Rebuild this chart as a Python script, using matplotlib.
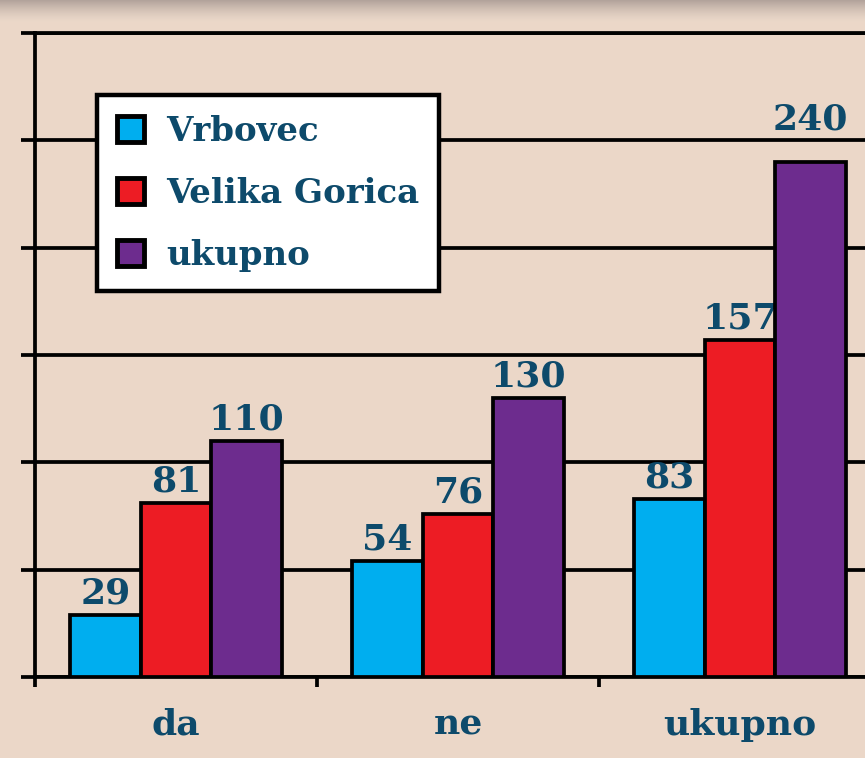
import numpy as np
import matplotlib.pyplot as plt
from matplotlib.patches import Patch

# data
categories = ['da', 'ne', 'ukupno']
series = ['Vrbovec', 'Velika Gorica', 'ukupno']
vrbovec = [29, 54, 83]
velika_gorica = [81, 76, 157]
ukupno = [110, 130, 240]
values = [vrbovec, velika_gorica, ukupno]
colors = ['#00AEEF', '#ED1C24', '#6D2C8E']

txt_color = '#0D4A6B'
bg = '#EBD8C9'
font = 'DejaVu Serif'

fig = plt.figure(figsize=(8.65, 7.58), dpi=100)
fig.patch.set_facecolor(bg)

# background with darker band at the top
bga = fig.add_axes([0, 0, 1, 1], zorder=-10)
grad = np.ones((758, 1, 3))
top = np.array([0.70, 0.64, 0.61])
base = np.array([0.922, 0.847, 0.788])
rows = np.arange(758)
w = np.clip(1 - rows / 22.0, 0, 1)[:, None] ** 1.5
grad[:, 0, :] = base * (1 - w) + top * w
bga.imshow(grad, aspect='auto', extent=[0, 1, 0, 1], origin='upper')
bga.axis('off')

ax = fig.add_axes([35 / 865, 81 / 758, 846 / 865, 644 / 758])
ax.patch.set_alpha(0)

x = np.arange(len(categories))
bw = 0.25
lw = 2.7
for i, (name, vals, c) in enumerate(zip(series, values, colors)):
    pos = x + (i - 1) * bw
    ax.bar(pos, vals, bw, color=c, edgecolor='black', linewidth=lw, zorder=3)
    for p, v in zip(pos, vals):
        y = v
        # move label above a gridline it would cross
        nxt = (v // 50 + 1) * 50
        if nxt - v < 14:
            y = nxt
        ax.annotate(str(v), (p, y), xytext=(0, 3), textcoords='offset points',
                    ha='center', va='bottom', fontsize=26, fontweight='bold',
                    color=txt_color, family=font)

ax.set_ylim(0, 300)
ax.set_xlim(-0.5, 2.5)
ax.set_yticks(np.arange(0, 301, 50))
ax.set_yticklabels([])
ax.yaxis.grid(True, color='black', linewidth=lw)
ax.set_axisbelow(True)
ax.tick_params(axis='y', length=10, width=lw, direction='out', color='black')

ax.set_xticks([-0.5, 0.5, 1.5, 2.5])
ax.set_xticklabels([])
ax.set_xticks(x, minor=True)
ax.set_xticklabels(categories, minor=True, fontsize=26, fontweight='bold',
                   color=txt_color, family=font)
ax.tick_params(axis='x', which='major', length=7, width=lw, color='black')
ax.tick_params(axis='x', which='minor', length=0, pad=22)

for s in ['left', 'bottom', 'top']:
    ax.spines[s].set_linewidth(lw)
ax.spines['right'].set_visible(False)

handles = [Patch(facecolor=c, edgecolor='black', linewidth=3.5) for c in colors]
leg = ax.legend(handles, series, loc='upper left',
                bbox_to_anchor=(97 / 865, 1 - 95 / 758),
                bbox_transform=fig.transFigure,
                prop={'family': font, 'weight': 'bold', 'size': 24.5},
                fancybox=False, framealpha=1, edgecolor='black',
                handlelength=0.8, handleheight=0.8, handletextpad=0.65,
                labelspacing=0.85, borderpad=0.58, borderaxespad=0)
leg.get_frame().set_linewidth(3.2)
for t in leg.get_texts():
    t.set_color(txt_color)

fig.savefig('out.png', dpi=100, facecolor=bg)
